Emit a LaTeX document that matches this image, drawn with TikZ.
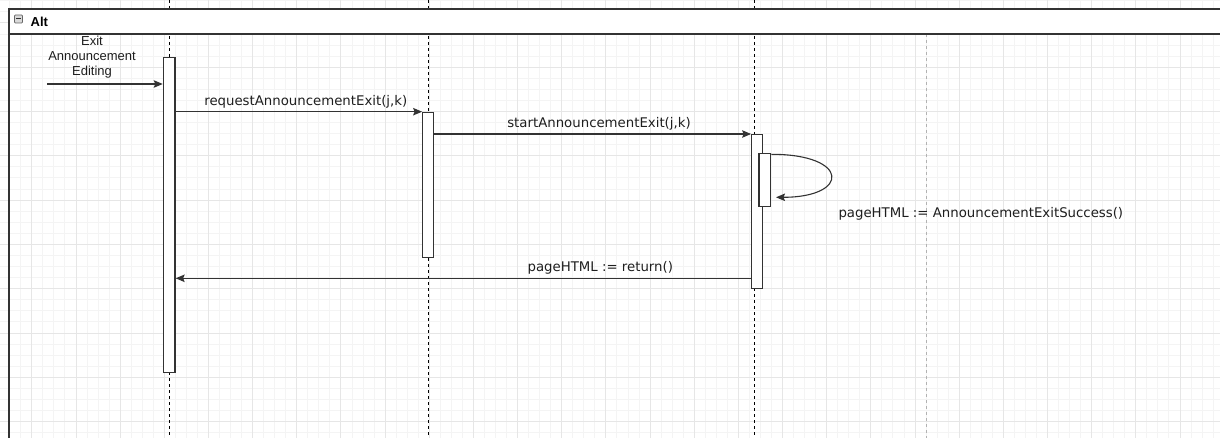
\documentclass[tikz,border=0pt]{standalone}
\usepackage{fontspec}
\setmainfont{DejaVu Sans}
\newfontfamily\arialfont{Liberation Sans}
\usetikzlibrary{arrows.meta}
\definecolor{gridminor}{HTML}{F4F4F4}
\definecolor{gridmajor}{HTML}{E6E6E6}
\definecolor{ink}{HTML}{1E1E1E}
\definecolor{edge}{HTML}{333333}
\begin{document}
\begin{tikzpicture}[x=1pt,y=-1pt,
  minorline/.style={draw=gridminor, line width=0.7pt},
  majorline/.style={draw=gridmajor, line width=0.7pt},
  actbox/.style={draw=edge, line width=1.2pt, fill=white, inner sep=0pt, anchor=north},
  msg/.style={draw=edge, line width=1.1pt, -{Stealth[length=9pt,width=7.5pt,inset=1.5pt]}},
  lifeline/.style={draw=black, line width=0.9pt, dash pattern=on 3pt off 3pt},
  pagebreak/.style={draw=black!30, line width=0.9pt, dash pattern=on 3pt off 3pt},
  lbl/.style={font=\fontsize{13.3}{15}\selectfont, text=ink, inner sep=0pt},
  framefill/.style={fill=white, draw=none},
  frameline/.style={draw=edge, line width=1.2pt}
]
\useasboundingbox (0,0) rectangle (1220,438);

% background grid
\begin{scope}
  \clip (0,0) rectangle (1220,438);
  \foreach \k in {0,...,112}
    \draw[minorline] ({-12.46+11.04*\k},0) -- ({-12.46+11.04*\k},438);
  \foreach \k in {0,...,41}
    \draw[minorline] (0,{0.65+11.075*\k}) -- (1220,{0.65+11.075*\k});
  \foreach \k in {0,...,28}
    \draw[majorline] ({-12.46+44.16*\k},0) -- ({-12.46+44.16*\k},438);
  \foreach \k in {0,...,11}
    \draw[majorline] (0,{-21.5+44.3*\k}) -- (1220,{-21.5+44.3*\k});
\end{scope}

% lifelines
\coordinate (l1top) at (169.3,0);   \coordinate (l1bot) at (169.3,438);
\coordinate (l2top) at (428.3,0);   \coordinate (l2bot) at (428.3,438);
\coordinate (l3top) at (754.3,0);   \coordinate (l3bot) at (754.3,438);
\coordinate (pbtop) at (926,34);    \coordinate (pbbot) at (926,438);
\draw[lifeline] (l1top) -- (l1bot);
\draw[lifeline] (l2top) -- (l2bot);
\draw[lifeline] (l3top) -- (l3bot);
\draw[pagebreak] (pbtop) -- (pbbot);

% combined fragment frame with its header
\coordinate (ftl) at (9,9);
\coordinate (ftr) at (1222,9);
\coordinate (fhl) at (9,34);
\coordinate (fhr) at (1222,34);
\coordinate (fbl) at (9,440);
\fill[framefill] (ftl) rectangle (fhr);
\draw[frameline] (ftr) -- (ftl) -- (fbl);
\draw[frameline] (fhl) -- (fhr);
\node[draw=black!60, fill=black!15, line width=0.7pt, minimum width=8pt, minimum height=8pt,
      inner sep=0pt, rounded corners=0.8pt] (fold) at (18.5,19) {};
\draw[black!80, line width=1pt] ([xshift=2pt]fold.west) -- ([xshift=-2pt]fold.east);
\node[font=\arialfont\bfseries\fontsize{13}{15}\selectfont, text=black, inner sep=0pt,
      anchor=base west] (altlbl) at (30.5,26.6) {Alt};

% activation bars
\node[actbox, minimum width=11.7pt, minimum height=315pt]   (a1) at (169.2,56.7) {};
\node[actbox, minimum width=11pt,   minimum height=144.6pt] (a2) at (428.2,112.3) {};
\node[actbox, minimum width=11pt,   minimum height=153.7pt] (a3) at (757.2,134) {};
\node[actbox, minimum width=11.7pt, minimum height=52.4pt]  (a3n) at (764.85,153.3) {};

% message rows
\coordinate (found) at (47,84);
\coordinate (yreq)   at (0,111.7);
\coordinate (ystart) at (0,134);
\coordinate (yret)   at (0,278.3);
\coordinate (selfend) at (776,197.3);

\draw[msg] (found) -- (a1.west |- found);
\node[font=\arialfont\fontsize{13}{15}\selectfont, text=ink, align=center, inner sep=0pt]
  (foundlbl) at (92,57) {Exit\\Announcement\\Editing};

\draw[msg] (a1.east |- yreq) -- (a2.west |- yreq);
\node[lbl, anchor=base] (reqlbl) at (305.8,105.5) {requestAnnouncementExit(j,k)};

\draw[msg] (a2.east |- ystart) -- (a3.west |- ystart);
\node[lbl, anchor=base] (startlbl) at (599,128) {startAnnouncementExit(j,k)};

\draw[msg] ([yshift=-1pt]a3n.north east) .. controls (850,154.3) and (850,197.3) .. (selfend);
\node[lbl, anchor=base west] (selflbl) at (838.3,217.5) {pageHTML := AnnouncementExitSuccess()};

\draw[msg] (a3.west |- yret) -- (a1.east |- yret);
\node[lbl, anchor=base] (retlbl) at (600.3,272) {pageHTML := return()};
\end{tikzpicture}
\end{document}
